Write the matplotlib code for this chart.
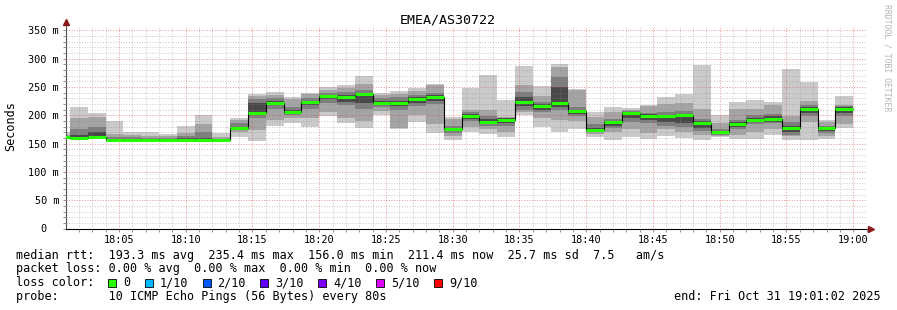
import matplotlib
matplotlib.use('Agg')
import matplotlib.pyplot as plt
import matplotlib.dates as mdates
from matplotlib.ticker import MultipleLocator
from matplotlib.patches import Rectangle
import pandas as pd

# --- data: one value per 80 s step, 18:00:00 .. 18:58:40 (ms) ---
median = [161, 160, 161, 157, 157, 157, 157, 157, 157, 157, 177, 204, 222, 205, 223,
          234, 233, 237, 222, 222, 229, 232, 175, 199, 189, 192, 224, 217, 222, 207,
          174, 188, 204, 199, 199, 201, 187, 170, 184, 192, 193, 177, 212, 177, 211]
ping_min = [158, 157, 158, 156, 156, 156, 156, 156, 156, 156, 162, 155, 182, 186, 180,
            198, 186, 178, 200, 175, 188, 168, 157, 170, 167, 162, 200, 180, 171, 176,
            162, 157, 161, 159, 163, 160, 156, 161, 158, 159, 166, 157, 157, 158, 178]
ping_max = [170, 215, 204, 190, 171, 170, 167, 181, 201, 168, 196, 238, 242, 233, 240,
            250, 253, 269, 240, 243, 248, 256, 197, 249, 272, 227, 287, 252, 290, 247,
            206, 214, 213, 219, 233, 237, 289, 200, 223, 227, 224, 281, 259, 192, 234]
mid_lo = [159, 158, 160, 157, 157, 157, 157, 157, 157, 157, 170, 174, 192, 195, 196,
          206, 195, 190, 208, 178, 200, 185, 163, 180, 175, 171, 205, 195, 192, 190,
          167, 170, 175, 168, 175, 170, 166, 163, 166, 170, 175, 163, 189, 163, 185]
mid_hi = [166, 195, 197, 167, 165, 164, 163, 169, 184, 162, 192, 235, 236, 229, 237,
          245, 249, 255, 236, 238, 243, 253, 193, 209, 209, 197, 253, 234, 286, 244,
          197, 206, 210, 216, 220, 221, 212, 186, 211, 212, 219, 198, 226, 189, 218]
core_lo = [160, 159, 161, 157, 157, 157, 157, 158, 157, 157, 174, 195, 212, 200, 212,
           222, 218, 212, 214, 210, 216, 220, 168, 190, 182, 182, 210, 205, 210, 198,
           170, 178, 188, 186, 182, 180, 172, 165, 176, 184, 186, 166, 198, 168, 198]
core_hi = [163, 175, 180, 162, 161, 160, 160, 164, 170, 159, 186, 228, 230, 215, 230,
           240, 242, 245, 230, 232, 236, 240, 182, 205, 198, 196, 242, 224, 268, 214,
           184, 194, 208, 204, 206, 208, 194, 176, 192, 200, 202, 188, 218, 182, 216]
inner_lo = [160, 159, 162, 157, 157, 157, 157, 158, 157, 157, 175, 200, 218, 202, 218,
            228, 224, 222, 218, 216, 222, 225, 172, 194, 185, 187, 216, 210, 215, 202,
            172, 182, 196, 192, 188, 186, 178, 167, 180, 188, 189, 170, 204, 172, 204]
inner_hi = [162, 165, 170, 159, 158, 158, 158, 160, 160, 158, 180, 222, 226, 210, 226,
            236, 236, 240, 226, 226, 232, 236, 178, 202, 193, 195, 232, 220, 250, 210,
            178, 190, 206, 202, 200, 202, 190, 173, 188, 196, 198, 182, 214, 179, 214]

rtt_stats = [193.3, 235.4, 156.0, 211.4]   # avg, max, min, now
rtt_sd = 25.7
am_s = 7.5
loss_stats = [0.00, 0.00, 0.00, 0.00]
loss_labels = ['0', '1/10', '2/10', '3/10', '4/10', '5/10', '9/10']
loss_colors = ['#26ff00', '#00b8ff', '#0059ff', '#5e00ff', '#7e00ff', '#dd00ff', '#ff0000']

W, H = 897, 310
plt.rcParams['font.family'] = 'DejaVu Sans Mono'

fig = plt.figure(figsize=(W / 100, H / 100), dpi=100)
fig.patch.set_facecolor('white')
ax = fig.add_axes([66 / W, 1 - 228.5 / H, 801 / W, 202.6 / H])

edges = pd.date_range('2025-10-31 18:00:00', periods=len(median) + 1, freq='80s')


def stepvals(v):
    return list(v) + [v[-1]]


# smoke layers, lightest (min..max) first
layers = [(ping_min, ping_max, '#cacaca'),
          (mid_lo, mid_hi, '#a4a4a4'),
          (core_lo, core_hi, '#7e7e7e'),
          (inner_lo, inner_hi, '#484848')]
for lo, hi, c in layers:
    ax.fill_between(edges, stepvals(lo), stepvals(hi), step='post', color=c, lw=0, zorder=1)

ax.step(edges, stepvals(median), where='post', color='black', lw=0.8, zorder=3)
ax.hlines(median, edges[:-1], edges[1:], color=loss_colors[0], lw=2.2, zorder=4)

ax.set_xlim(pd.Timestamp('2025-10-31 18:01:02'), pd.Timestamp('2025-10-31 19:01:02'))
ax.set_ylim(0, 358)

ax.xaxis.set_major_locator(mdates.MinuteLocator(byminute=range(0, 60, 5)))
ax.xaxis.set_minor_locator(mdates.MinuteLocator())
ax.xaxis.set_major_formatter(mdates.DateFormatter('%H:%M'))
yt = list(range(0, 351, 50))
ax.set_yticks(yt)
ax.set_yticklabels([f'{v} m' if v else '0  ' for v in yt])
ax.yaxis.set_minor_locator(MultipleLocator(10))

ax.set_axisbelow(False)
ax.grid(which='minor', color='#8c8c8c', ls=(0, (1, 1.6)), lw=0.72, alpha=0.45)
ax.grid(which='major', color='#e04848', ls=(0, (1, 1.6)), lw=0.72, alpha=0.55)

ax.tick_params(which='both', length=2, width=0.6, color='#808080', labelsize=7.4, pad=3)
for s in ['top', 'right']:
    ax.spines[s].set_visible(False)
ax.spines['left'].set_color('#505050')
ax.spines['bottom'].set_color('black')
ax.spines['left'].set_linewidth(0.8)
ax.spines['bottom'].set_linewidth(0.8)

# axis arrows
ax.plot([0], [1.02], marker='^', color='#8b1a1a', ms=4, transform=ax.transAxes, clip_on=False)
ax.plot([1.005], [0], marker='>', color='#8b1a1a', ms=4, transform=ax.transAxes, clip_on=False)


def ftxt(x, y, s, **kw):
    kw.setdefault('va', 'center')
    kw.setdefault('fontsize', 8.5)
    fig.text(x / W, 1 - y / H, s, **kw)


ftxt(448, 20, 'EMEA/AS30722', ha='center', fontsize=9.6)
ftxt(11, 126, 'Seconds', rotation=90, ha='center')
ftxt(887, 58, 'RRDTOOL / TOBI OETIKER', rotation=270, ha='center', fontsize=5.9, color='#b4b4b4')

a, mx, mn, now = rtt_stats
ftxt(16, 255, f'median rtt:  {a:.1f} ms avg  {mx:.1f} ms max  {mn:.1f} ms min  '
              f'{now:.1f} ms now  {rtt_sd:.1f} ms sd  {am_s:.1f}   am/s')
la, lmx, lmn, lnow = loss_stats
ftxt(16, 268.5, f'packet loss: {la:.2f} % avg  {lmx:.2f} % max  {lmn:.2f} % min  {lnow:.2f} % now')
ftxt(16, 282.5, 'loss color:')
x = 108
for lab, col in zip(loss_labels, loss_colors):
    fig.patches.append(Rectangle((x / W, 1 - 286.5 / H), 8 / W, 8 / H, transform=fig.transFigure,
                                 facecolor=col, edgecolor='black', lw=0.6))
    ftxt(x + 15, 282.5, lab)
    x += 15 + len(lab) * 7.1 + 14.5
ftxt(16, 296.5, 'probe:       10 ICMP Echo Pings (56 Bytes) every 80s')
ftxt(881, 296.5, 'end: Fri Oct 31 19:01:02 2025', ha='right')

fig.savefig('out.png', dpi=100, facecolor='white')
